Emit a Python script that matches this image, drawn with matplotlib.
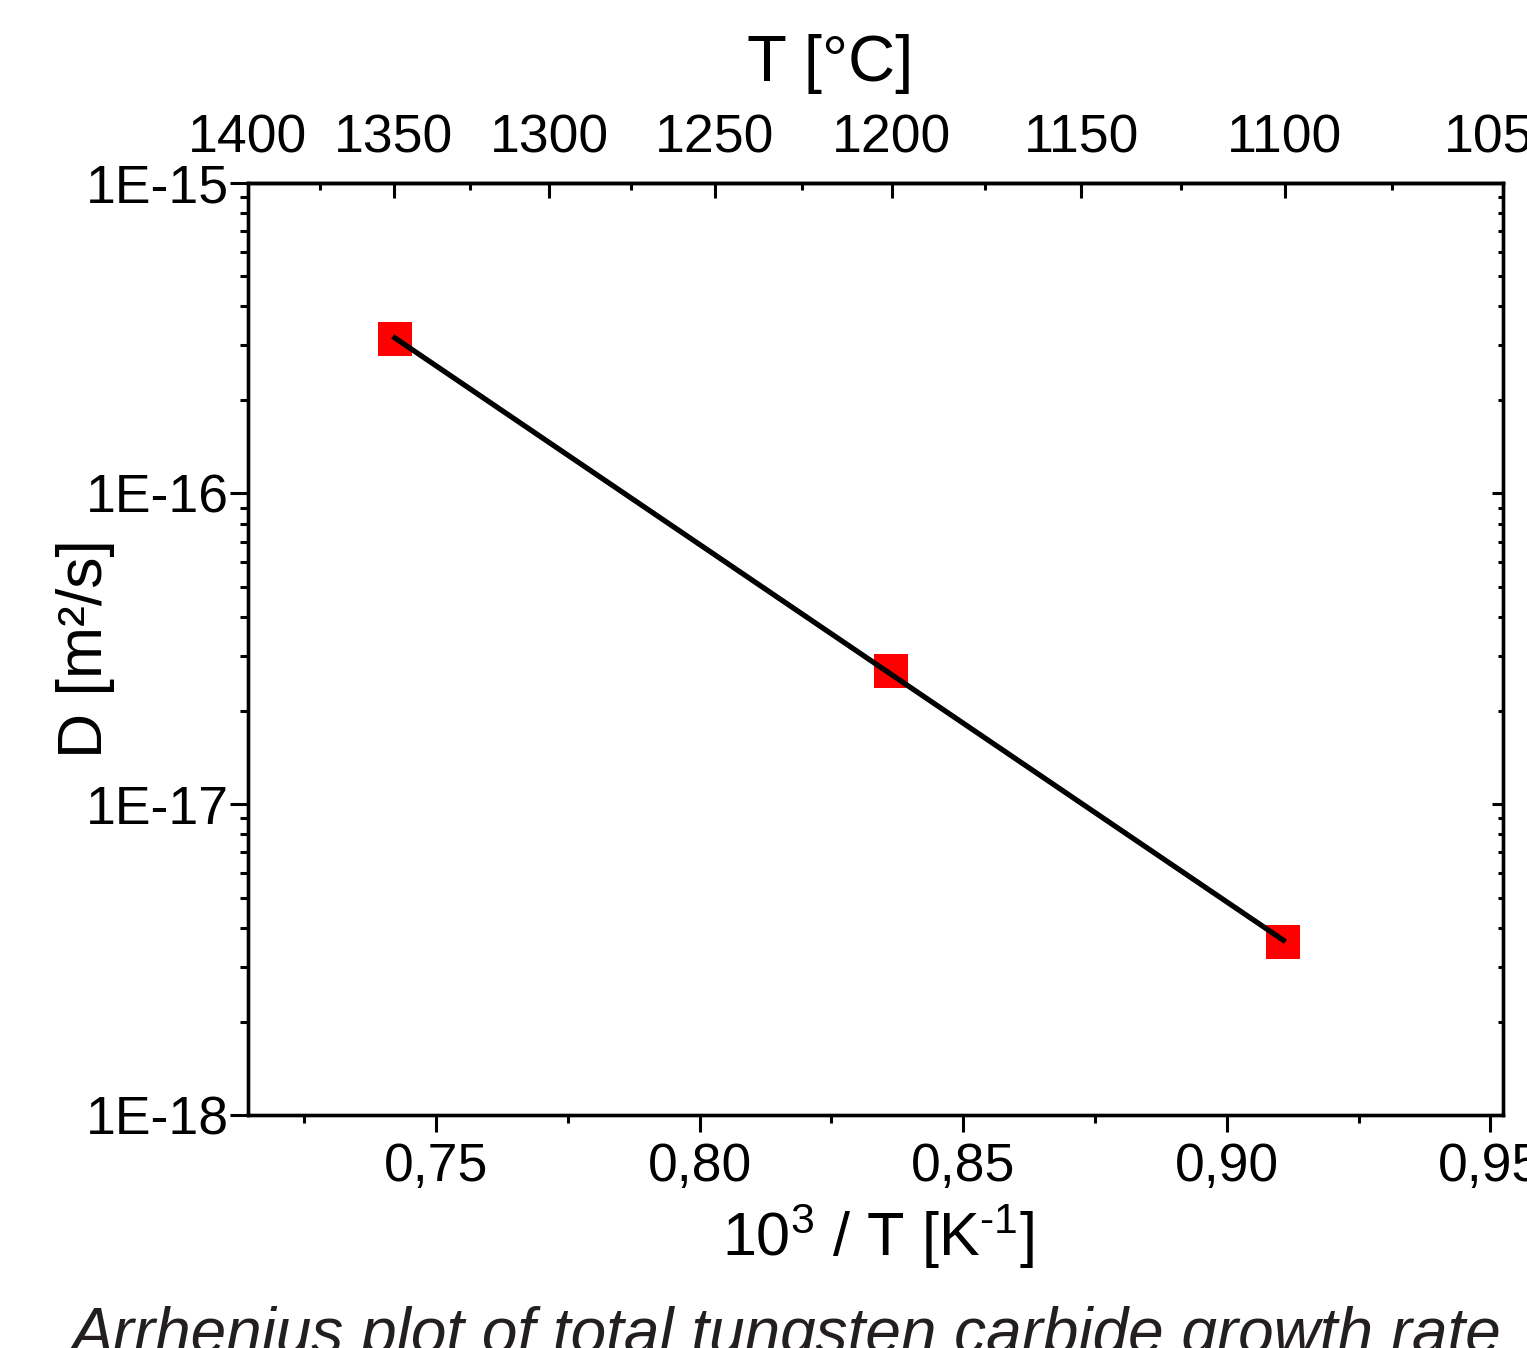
import numpy as np
import matplotlib
matplotlib.use("Agg")
import matplotlib.pyplot as plt
from matplotlib.ticker import LogLocator, NullFormatter, FixedLocator, FuncFormatter, MultipleLocator

plt.rcParams['font.family'] = ['Liberation Sans', 'DejaVu Sans']
plt.rcParams['mathtext.fontset'] = 'custom'
plt.rcParams['mathtext.rm'] = 'Liberation Sans'
plt.rcParams['mathtext.it'] = 'Liberation Sans:italic'
plt.rcParams['mathtext.default'] = 'regular'

# data
inv_T = [0.7422, 0.8363, 0.9107]          # 10^3 / T
D = [3.13e-16, 2.69e-17, 3.60e-18]        # m^2/s
temp_ticks = [1400, 1350, 1300, 1250, 1200, 1150, 1100, 1050]
temp_minor = [1375, 1325, 1275, 1225, 1175, 1125, 1075]

W, H = 1527, 1348
fig = plt.figure(figsize=(W / 100, H / 100), dpi=100)
ax = fig.add_axes([0.1622, 0.1728, 0.9843 - 0.1622, 0.8645 - 0.1728])

# linear fit of log10(D) vs 1/T
k, b = np.polyfit(inv_T, np.log10(D), 1)
xfit = np.array([inv_T[0], inv_T[-1]])

ax.plot(inv_T, D, 's', color='red', markersize=25, markeredgewidth=0, zorder=2)
ax.plot(xfit, 10 ** (k * xfit + b), color='black', lw=3.8, zorder=3)

x_lo, x_hi = 1000 / 1400, 1000 / 1050
ax.set_yscale('log')
ax.set_xlim(x_lo, x_hi)
ax.set_ylim(1e-18, 1e-15)

lw = 2.4
for s in ax.spines.values():
    s.set_linewidth(lw)

fs_tick = 38.5
ax.xaxis.set_major_locator(MultipleLocator(0.05))
ax.xaxis.set_minor_locator(MultipleLocator(0.025))
ax.xaxis.set_major_formatter(FuncFormatter(lambda v, p: f"{v:.2f}".replace('.', ',')))
ax.yaxis.set_major_locator(LogLocator(base=10, numticks=10))
ax.yaxis.set_minor_locator(LogLocator(base=10, subs=np.arange(2, 10), numticks=20))
ax.yaxis.set_minor_formatter(NullFormatter())
ax.yaxis.set_major_formatter(FuncFormatter(lambda v, p: f"1E{int(round(np.log10(v)))}"))

ax.tick_params(axis='x', which='major', direction='out', length=12.5, width=2.2,
               labelsize=fs_tick, pad=7, top=False)
ax.tick_params(axis='x', which='minor', direction='out', length=6, width=2.2, top=False)
ax.tick_params(axis='y', which='major', direction='out', length=13, width=2.2,
               labelsize=fs_tick, pad=0.5, right=False)
ax.tick_params(axis='y', which='minor', direction='out', length=6, width=2.2, right=False)

# right side ticks (inward)
axr = ax.twinx()
axr.set_yscale('log')
axr.set_ylim(ax.get_ylim())
axr.yaxis.set_major_locator(LogLocator(base=10, numticks=10))
axr.yaxis.set_minor_locator(LogLocator(base=10, subs=np.arange(2, 10), numticks=20))
axr.tick_params(axis='y', which='major', direction='in', length=8, width=2.2, labelright=False)
axr.tick_params(axis='y', which='minor', direction='in', length=3.5, width=2.2, labelright=False)
for s in axr.spines.values():
    s.set_linewidth(lw)

# top axis in temperature: 1/(T+273.15) spread linearly from 1400 to 1050 across the axis
u_lo, u_hi = 1 / (1400 + 273.15), 1 / (1050 + 273.15)


def x_to_t(x):
    x = np.asarray(x, dtype=float)
    u = u_lo + (x - x_lo) / (x_hi - x_lo) * (u_hi - u_lo)
    with np.errstate(divide='ignore'):
        return 1 / u - 273.15


def t_to_x(t):
    t = np.asarray(t, dtype=float)
    u = 1 / (t + 273.15)
    return x_lo + (u - u_lo) / (u_hi - u_lo) * (x_hi - x_lo)


top = ax.secondary_xaxis('top', functions=(x_to_t, t_to_x))
top.xaxis.set_major_locator(FixedLocator(temp_ticks))
top.xaxis.set_minor_locator(FixedLocator(temp_minor))
top.xaxis.set_major_formatter(FuncFormatter(lambda v, p: f"{v:.0f}"))
top.tick_params(axis='x', which='major', direction='in', length=11, width=2.2,
                labelsize=fs_tick, pad=14)
top.tick_params(axis='x', which='minor', direction='in', length=5, width=2.2)
top.spines['top'].set_linewidth(lw)

fig.text(830 / W, 1 - 64 / H, 'T [°C]', fontsize=47, ha='center', va='center')

ax.set_xlabel(r'10$^3$ / T [K$^{\text{-}1}$]', fontsize=44, va='top')
ax.xaxis.set_label_coords(0.502, -0.093)
ax.set_ylabel('D [m²/s]', fontsize=45, va='bottom')
ax.yaxis.set_label_coords(-0.106, 0.5)

fig.text(786 / W, -5 / H, 'Arrhenius plot of total tungsten carbide growth rate',
         fontsize=46, style='italic', color='#231f20', ha='center', va='baseline')

fig.savefig('out.png', dpi=100)
